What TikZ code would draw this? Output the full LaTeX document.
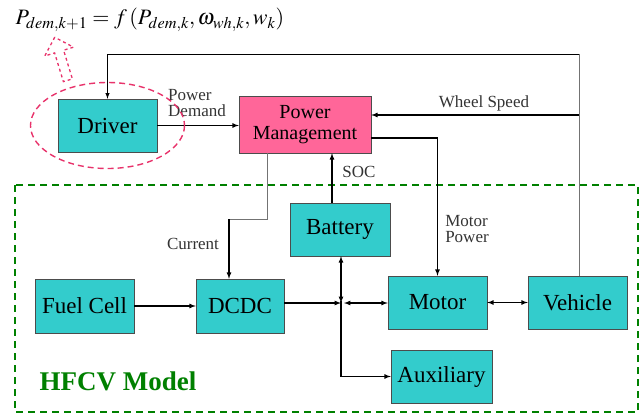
\documentclass[tikz,border=0pt]{standalone}
\usepackage{mathptmx}
\usepackage{fontspec}
\setmainfont{Liberation Serif}
\usepackage{tikz}
\usetikzlibrary{shapes.arrows}

\definecolor{boxcyan}{RGB}{51,204,204}
\definecolor{pmpink}{RGB}{255,102,153}
\definecolor{ringpink}{RGB}{232,51,107}
\definecolor{modelgreen}{RGB}{0,128,0}

\tikzset{
  blk/.style={rectangle,draw=black!70,fill=boxcyan,minimum width=99pt,minimum height=53pt,
    inner sep=2pt,font=\rmfamily\fontsize{23}{24}\selectfont},
  lbl/.style={font=\rmfamily\fontsize{17}{16}\selectfont,text=black!80,inner sep=1pt,align=left},
  sig/.style={->,>=latex,line width=1.2pt},
  thin/.style={black!55,line width=0.8pt}
}

\begin{document}
\begin{tikzpicture}[x=1pt,y=-1pt]
  \useasboundingbox (0,0) rectangle (643,416);

  % model frame
  \draw[modelgreen,dashed,line width=1.6pt,dash pattern=on 7pt off 5pt] (15,185) rectangle (638,412);
  \node[font=\rmfamily\bfseries\fontsize{27}{27}\selectfont,text=modelgreen,anchor=west] (model) at (36,381) {HFCV Model};

  % blocks
  \node[blk] (driver) at (107.5,125.5) {Driver};
  \node[blk,fill=pmpink,minimum width=132pt,minimum height=57pt,align=center,
    font=\rmfamily\fontsize{20}{21}\selectfont] (pm) at (305,124.5) {Power\\Management};
  \node[blk,minimum width=100pt] (battery) at (340,229.5) {Battery};
  \node[blk,minimum height=54pt] (fuel) at (84.5,306) {Fuel Cell};
  \node[blk,minimum width=88pt,minimum height=54pt] (dcdc) at (240,306) {DCDC};
  \node[blk] (motor) at (437.5,302.5) {Motor};
  \node[blk] (vehicle) at (577.5,302.5) {Vehicle};
  \node[blk,minimum width=101pt] (aux) at (441.5,376.5) {Auxiliary};

  \coordinate (j) at (341,303);
  \coordinate (top) at (579,54);
  \coordinate (ws) at (579,115);
  \coordinate (pmo) at (371,138);
  \coordinate (soc) at (332,203);
  \coordinate (cur) at (267,153);
  \coordinate (curb) at (229,219);

  % driver loop
  \draw[thin] (vehicle.north -| top) -- (top);
  \draw[sig,line width=1pt] (top) -| (driver.north);
  \draw[sig] (ws) -- (ws -| pm.east);
  \node[lbl] (wsl) at (484,103) {Wheel Speed};
  \draw[sig] (driver.east) -- (driver.east -| pm.west);
  \node[lbl] (pd) at (197,103) {Power\\Demand};

  % power management outputs
  \draw[sig] (pmo) -| (motor.north);
  \node[lbl] (mp) at (467,229) {Motor\\Power};
  \draw[sig] (soc) -- (soc |- pm.south);
  \node[lbl] (socl) at (359,172) {SOC};
  \draw[thin] (cur) |- (curb);
  \draw[sig] (curb) -- (curb |- dcdc.north);
  \node[lbl] (curl) at (193,244) {Current};

  % power flow
  \draw[sig] (fuel) -- (dcdc);
  \draw[sig] (dcdc.east |- j) -- (j);
  \draw[sig,<->] (battery.south -| j) -- (j);
  \draw[sig,<->] ([xshift=3pt]j) -- (j -| motor.west);
  \draw[sig,<->] (motor.east) -- (vehicle.west);
  \draw[sig] ([yshift=2pt]j) |- (aux.west);

  % driver model
  \draw[ringpink,dashed,line width=1.4pt,dash pattern=on 6pt off 4pt] (driver.center) ellipse [x radius=77,y radius=43];
  \node[single arrow,draw=ringpink,dashed,line width=1.3pt,rotate=107,minimum height=45pt,
    minimum width=30pt,single arrow head extend=8pt,inner sep=3pt] (up) at (62,61) {};
  \node[font=\fontsize{22}{22}\selectfont,anchor=west] (eq) at (12,20)
    {$P_{dem,k+1} = f\,(P_{dem,k},\omega_{wh,k},w_k)$};
\end{tikzpicture}
\end{document}
